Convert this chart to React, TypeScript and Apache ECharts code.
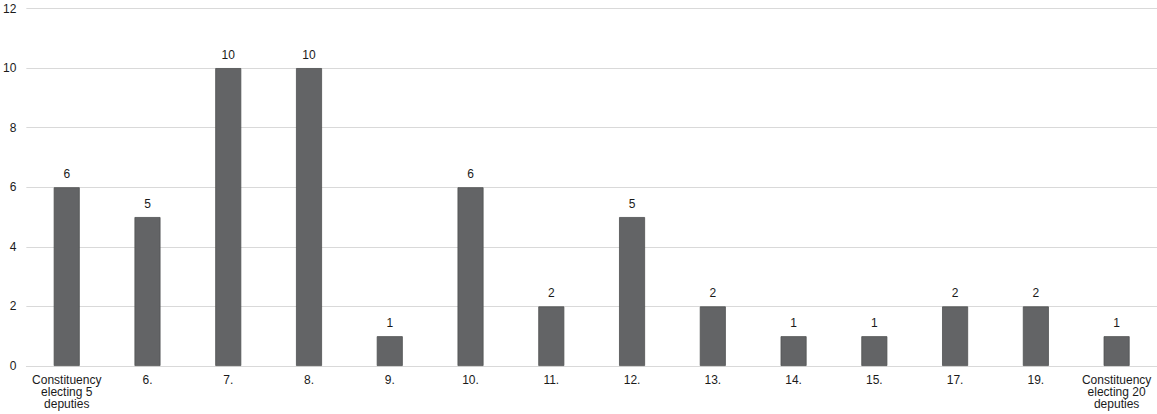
import React, { useEffect, useRef } from "react";
import * as echarts from "echarts";

const categories = [
  "Constituency\nelecting 5\ndeputies",
  "6.", "7.", "8.", "9.", "10.", "11.", "12.", "13.", "14.", "15.", "17.", "19.",
  "Constituency\nelecting 20\ndeputies",
];
const values = [6, 5, 10, 10, 1, 6, 2, 5, 2, 1, 1, 2, 2, 1];
const yMin = 0;
const yMax = 12;
const yInterval = 2;

export default function App() {
  const ref = useRef<HTMLDivElement>(null);
  useEffect(() => {
    document.body.style.margin = "0";
    const chart = echarts.init(ref.current!, null, { renderer: "svg" });
    chart.setOption({
      animation: false,
      textStyle: { fontFamily: "Liberation Sans, Arial, sans-serif" },
      grid: { left: 23.5, right: 0, top: 8.5, bottom: 48, containLabel: false },
      xAxis: {
        type: "category",
        data: categories,
        axisLine: { show: true, lineStyle: { color: "#d9d9d9" } },
        axisTick: { show: false },
        axisLabel: {
          color: "#1a1a1a",
          fontSize: 12,
          lineHeight: 12,
          interval: 0,
          margin: 8,
          fontFamily: "Liberation Sans, Arial, sans-serif",
        },
      },
      yAxis: {
        type: "value",
        min: yMin,
        max: yMax,
        interval: yInterval,
        axisLine: { show: false },
        axisTick: { show: false },
        splitLine: { lineStyle: { color: "#d9d9d9", width: 1 } },
        axisLabel: {
          color: "#1a1a1a",
          fontSize: 12,
          margin: 10,
          fontFamily: "Liberation Sans, Arial, sans-serif",
        },
      },
      series: [
        {
          type: "bar",
          data: values,
          barWidth: 26,
          itemStyle: { color: "#636466", borderColor: "#4f5052", borderWidth: 0.8 },
          label: {
            show: true,
            position: "top",
            distance: 7,
            color: "#1a1a1a",
            fontSize: 12,
            fontFamily: "Liberation Sans, Arial, sans-serif",
          },
        },
      ],
    });
    return () => chart.dispose();
  }, []);
  return <div ref={ref} style={{ width: 1157, height: 414 }} />;
}
